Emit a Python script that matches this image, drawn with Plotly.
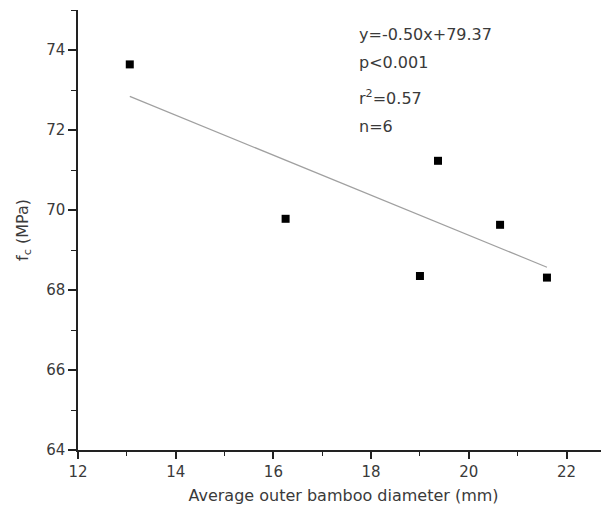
import plotly.graph_objects as go

# Data
diameter_mm = [13.06, 16.25, 19.00, 19.37, 20.64, 21.60]
fc_mpa = [73.64, 69.78, 68.35, 71.23, 69.63, 68.31]
fit_slope = -0.50
fit_intercept = 79.37
stats_lines = ["y=-0.50x+79.37", "p<0.001", "r<sup>2</sup>=0.57", "n=6"]
x_ticks = [12, 14, 16, 18, 20, 22]
y_ticks = [64, 66, 68, 70, 72, 74]

FONT = "DejaVu Sans"
TXT = "#3a3a3a"

x_fit = [min(diameter_mm), max(diameter_mm)]
y_fit = [fit_slope * v + fit_intercept for v in x_fit]

fig = go.Figure()
fig.add_trace(go.Scatter(x=x_fit, y=y_fit, mode="lines",
                         line=dict(color="#a0a0a0", width=1.2), hoverinfo="skip"))
fig.add_trace(go.Scatter(x=diameter_mm, y=fc_mpa, mode="markers",
                         marker=dict(symbol="square", size=8, color="black")))

ann_y = [74.38, 73.68, 72.82, 72.1]
for txt, yy in zip(stats_lines, ann_y):
    fig.add_annotation(x=17.72, y=yy, xref="x", yref="y", text=txt, showarrow=False,
                       xanchor="left", yanchor="middle",
                       font=dict(family=FONT, size=16, color=TXT))

axis_common = dict(showgrid=False, zeroline=False, showline=True, linecolor="#222",
                   linewidth=1.5, ticks="outside", tickcolor="#222", tickwidth=1.5,
                   tickfont=dict(family=FONT, size=15, color=TXT), mirror=False,
                   automargin=False)

fig.update_xaxes(range=[12, 22.87], tickvals=x_ticks, ticklen=7,
                 minor=dict(ticks="outside", ticklen=4, dtick=1, tickcolor="#222", tickwidth=1.2),
                 title=dict(text="Average outer bamboo diameter (mm)",
                            font=dict(family=FONT, size=16, color=TXT), standoff=10),
                 **axis_common)
fig.update_yaxes(range=[64, 75], tickvals=y_ticks, ticklen=8,
                 minor=dict(ticks="outside", ticklen=5, dtick=1, tickcolor="#222", tickwidth=1.2),
                 title=dict(text="f<sub>c</sub> (MPa)",
                            font=dict(family=FONT, size=16, color=TXT), standoff=14),
                 **axis_common)

# page body has an 8px default margin, so the figure is sized to fill the rest
fig.update_layout(width=601, height=508, showlegend=False,
                  plot_bgcolor="white", paper_bgcolor="white",
                  margin=dict(l=70, r=0, t=2, b=66))

fig.write_html("out.html")
